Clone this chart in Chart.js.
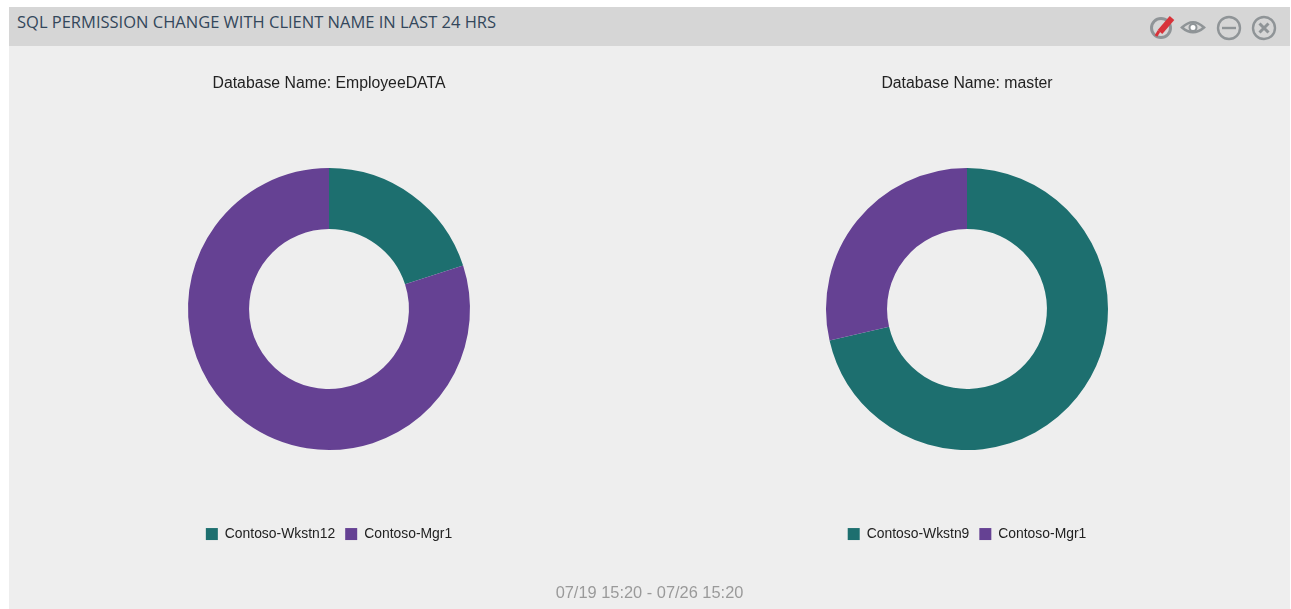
<!DOCTYPE html>
<html>
<head>
<meta charset="utf-8">
<title>SQL Permission Change</title>
<script src="https://cdn.jsdelivr.net/npm/chart.js@4"></script>
<style>
  html, body { margin: 0; padding: 0; background: #fff; overflow: hidden; }
  .panel { position: absolute; left: 9px; top: 7px; width: 1281px; height: 602px; background: #eeeeee; }
  .panel-head { position: absolute; left: 0; top: 0; width: 100%; height: 39px; background: #d6d6d6; }
  .panel-title { position: absolute; left: 8px; top: 3px; font: 16.5px "Open Sans", sans-serif; color: #33475b; white-space: nowrap; }
  .icons { position: absolute; left: 1135px; top: 4px; }
  .chart-box { position: absolute; top: 39px; width: 640px; height: 563px; }
  .range { position: absolute; left: 0; width: 100%; top: 576px; text-align: center; font: 16.4px "Liberation Sans", sans-serif; color: #9a9a9a; }
</style>
</head>
<body>
<div class="panel">
  <div class="panel-head">
    <div class="panel-title">SQL PERMISSION CHANGE WITH CLIENT NAME IN LAST 24 HRS</div>
    <svg class="icons" width="140" height="32" viewBox="0 0 140 32" fill="none" stroke="#8f9497" stroke-width="2.4">
      <!-- edit -->
      <circle cx="17" cy="17" r="9.5" stroke-width="3"/>
      <path d="M16 21 L28 7" stroke="#d8333a" stroke-width="6"/>
      <path d="M12 25 L15 20" stroke="#d8333a" stroke-width="3"/>
      <!-- view -->
      <path d="M38 16.5 Q49 6 60 16.5 Q49 26 38 16.5 Z" stroke-width="2.6"/>
      <circle cx="49" cy="16.5" r="3.5" fill="#fff" stroke-width="2"/>
      <!-- minimise -->
      <circle cx="85" cy="17" r="11"/>
      <path d="M78 17 H92"/>
      <!-- close -->
      <circle cx="120" cy="17" r="11"/>
      <path d="M115.5 12.5 L124.5 21.5 M124.5 12.5 L115.5 21.5" stroke-width="3"/>
    </svg>
  </div>
  <div class="chart-box" style="left:0"><canvas id="chartEmployee"></canvas></div>
  <div class="chart-box" style="left:638px"><canvas id="chartMaster"></canvas></div>
  <div class="range">07/19 15:20 - 07/26 15:20</div>
</div>
<script>
const employeeClients = ['Contoso-Wkstn12', 'Contoso-Mgr1'];
const employeeCounts = [1, 4];
const masterClients = ['Contoso-Wkstn9', 'Contoso-Mgr1'];
const masterCounts = [5, 2];
const sliceColors = ['#1d6f6f', '#654193'];

function donut(id, titleText, labels, values) {
    new Chart(document.getElementById(id), {
        type: 'doughnut',
        data: {
            labels: labels,
            datasets: [{
                data: values,
                backgroundColor: sliceColors,
                borderWidth: 0
            }]
        },
        options: {
            responsive: true,
            maintainAspectRatio: false,
            animation: false,
            // fixed ring size, the chart area is larger than the ring
            radius: 141,
            cutout: '56.7%',
            layout: { padding: { bottom: 58 } },
            plugins: {
                title: {
                    display: true,
                    text: titleText,
                    color: '#222',
                    font: { family: "'Liberation Sans'", size: 15.8, weight: 'normal' },
                    padding: { top: 28, bottom: 8 }
                },
                legend: {
                    display: true,
                    position: 'bottom',
                    labels: {
                        color: '#222',
                        font: { family: "'Liberation Sans'", size: 13.9 },
                        boxWidth: 12,
                        boxHeight: 12,
                        padding: 10
                    }
                },
                tooltip: { enabled: true }
            }
        }
    });
}

donut('chartEmployee', 'Database Name: EmployeeDATA', employeeClients, employeeCounts);
donut('chartMaster', 'Database Name: master', masterClients, masterCounts);
</script>
</body>
</html>
